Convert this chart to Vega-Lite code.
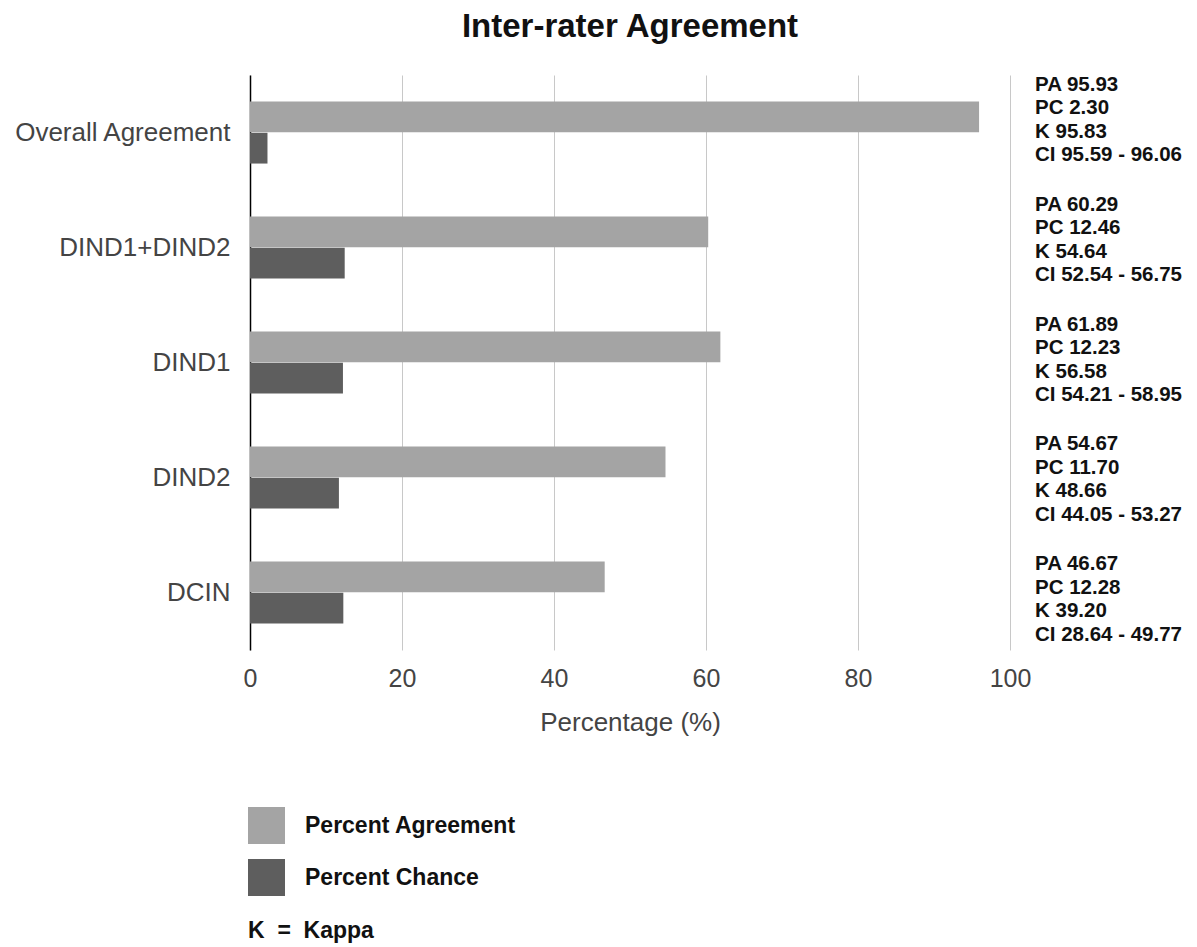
{
  "$schema": "https://vega.github.io/schema/vega-lite/v6.json",
  "autosize": {"type": "none"},
  "width": 760,
  "height": 575,
  "padding": {"left": 250, "top": 75, "right": 187, "bottom": 297},
  "background": "white",
  "title": {"text": "Inter-rater Agreement", "font": "Liberation Sans", "fontSize": 33, "fontWeight": "bold", "color": "#111", "offset": 31, "anchor": "middle"},
  "config": {"view": {"stroke": null}, "font": "Liberation Sans"},
  "datasets": {
    "bars": [
      {"category": "Overall Agreement", "series": "Percent Agreement", "value": 95.93},
      {"category": "Overall Agreement", "series": "Percent Chance", "value": 2.30},
      {"category": "DIND1+DIND2", "series": "Percent Agreement", "value": 60.29},
      {"category": "DIND1+DIND2", "series": "Percent Chance", "value": 12.46},
      {"category": "DIND1", "series": "Percent Agreement", "value": 61.89},
      {"category": "DIND1", "series": "Percent Chance", "value": 12.23},
      {"category": "DIND2", "series": "Percent Agreement", "value": 54.67},
      {"category": "DIND2", "series": "Percent Chance", "value": 11.70},
      {"category": "DCIN", "series": "Percent Agreement", "value": 46.67},
      {"category": "DCIN", "series": "Percent Chance", "value": 12.28}
    ],
    "notes": [
      {"category": "Overall Agreement", "lines": ["PA 95.93", "PC 2.30", "K 95.83", "CI 95.59 - 96.06"]},
      {"category": "DIND1+DIND2", "lines": ["PA 60.29", "PC 12.46", "K 54.64", "CI 52.54 - 56.75"]},
      {"category": "DIND1", "lines": ["PA 61.89", "PC 12.23", "K 56.58", "CI 54.21 - 58.95"]},
      {"category": "DIND2", "lines": ["PA 54.67", "PC 11.70", "K 48.66", "CI 44.05 - 53.27"]},
      {"category": "DCIN", "lines": ["PA 46.67", "PC 12.28", "K 39.20", "CI 28.64 - 49.77"]}
    ]
  },
  "layer": [
    {
      "data": {"name": "bars"},
      "mark": {"type": "bar"},
      "encoding": {
        "y": {
          "field": "category", "type": "nominal",
          "sort": ["Overall Agreement", "DIND1+DIND2", "DIND1", "DIND2", "DCIN"],
          "scale": {"paddingInner": 0.46, "paddingOuter": 0.23},
          "axis": {"title": null, "domain": true, "domainColor": "#000", "domainWidth": 1.5, "ticks": false, "labelFontSize": 26, "labelColor": "#444", "labelPadding": 20, "labelFont": "Liberation Sans", "labelLimit": 300}
        },
        "yOffset": {"field": "series", "type": "nominal", "sort": ["Percent Agreement", "Percent Chance"], "scale": {"paddingInner": 0.02}},
        "x": {
          "field": "value", "type": "quantitative",
          "scale": {"domain": [0, 100], "nice": false},
          "axis": {"title": "Percentage (%)", "values": [0, 20, 40, 60, 80, 100], "grid": true, "gridColor": "#c8c8c8", "gridWidth": 1, "domain": false, "ticks": false, "labelFlush": false, "labelFontSize": 25, "labelColor": "#444", "labelPadding": 16, "titleFontSize": 26, "titleFontWeight": "normal", "titleColor": "#444", "titlePadding": 18, "labelFont": "Liberation Sans", "titleFont": "Liberation Sans"}
        },
        "color": {
          "field": "series", "type": "nominal",
          "scale": {"domain": ["Percent Agreement", "Percent Chance"], "range": ["#a4a4a4", "#5e5e5e"]},
          "legend": {
            "orient": "none", "legendX": -2, "legendY": 732,
            "symbolType": "square", "symbolSize": 1369, "symbolStrokeWidth": 0, "symbolOpacity": 1,
            "labelFontSize": 23, "labelFontWeight": "bold", "labelColor": "#111", "labelOffset": 20, "labelFont": "Liberation Sans", "labelLimit": 400,
            "rowPadding": 15,
            "title": "K\u00a0\u00a0=\u00a0\u00a0Kappa", "titleOrient": "bottom", "titleFontSize": 23, "titleFontWeight": "bold", "titleColor": "#111", "titlePadding": 24, "titleAnchor": "start", "titleFont": "Liberation Sans"
          }
        }
      }
    },
    {
      "data": {"name": "notes"},
      "mark": {"type": "text", "align": "left", "baseline": "middle", "fontSize": 20.5, "fontWeight": "bold", "font": "Liberation Sans", "color": "#111", "lineHeight": 23.5, "dx": 25, "dy": -38},
      "encoding": {
        "y": {
          "field": "category", "type": "nominal",
          "sort": ["Overall Agreement", "DIND1+DIND2", "DIND1", "DIND2", "DCIN"],
          "scale": {"type": "point", "padding": 0.396},
          "axis": null
        },
        "x": {"datum": 100, "type": "quantitative"},
        "text": {"field": "lines"}
      }
    }
  ],
  "resolve": {"scale": {"y": "independent"}, "axis": {"y": "independent"}}
}
